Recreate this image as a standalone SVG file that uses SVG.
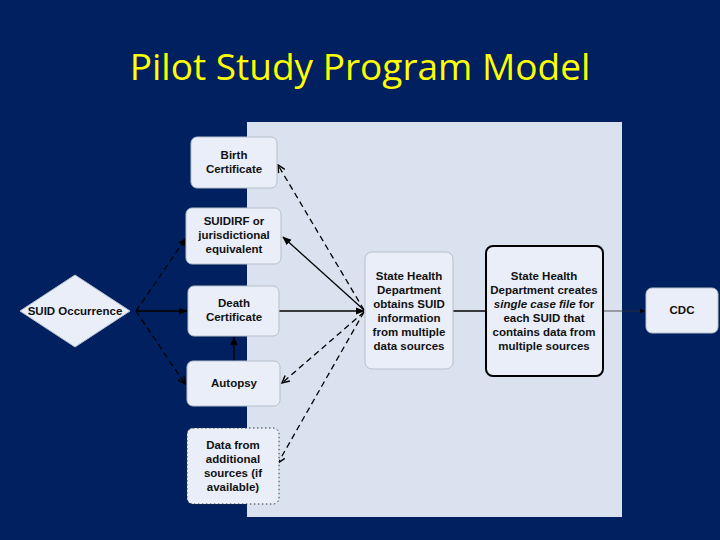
<svg xmlns="http://www.w3.org/2000/svg" width="720" height="540" viewBox="0 0 720 540">
<style>
.n{fill:#E9EEF8;stroke:#B8C0CC;stroke-width:1}
.t{font-family:"Liberation Sans",Arial,sans-serif;font-weight:bold;font-size:11.5px;fill:#111;text-anchor:middle}
.s{stroke:#000;stroke-width:1.3;fill:none}
.d{stroke:#000;stroke-width:1.3;fill:none;stroke-dasharray:6,4}
</style>
<defs>
<marker id="a" viewBox="0 0 10 10" refX="9" refY="5" markerWidth="7" markerHeight="7" orient="auto-start-reverse"><path d="M0,1 L10,5 L0,9 Z" fill="#000"/></marker>
<marker id="v" viewBox="0 0 10 10" refX="9" refY="5" markerWidth="7" markerHeight="7" orient="auto"><path d="M1,1 L9,5 L1,9" fill="none" stroke="#000" stroke-width="1.6"/></marker>
</defs>
<rect width="720" height="540" fill="#002060"/>
<text x="360" y="80" font-family="'Open Sans','Noto Sans',sans-serif" font-size="37" fill="#FFFF00" text-anchor="middle">Pilot Study Program Model</text>
<rect x="247" y="122" width="375" height="395" fill="#DAE2F0"/>
<g id="connectors">
<path class="d" d="M136,311 L186,238" marker-end="url(#a)"/>
<path class="s" d="M136,311 L187,311" marker-end="url(#a)"/>
<path class="d" d="M136,311 L185,384" marker-end="url(#v)"/>
<path class="s" d="M234,361 L234,337" marker-end="url(#a)"/>
<path class="d" d="M364,310 L278,165" marker-end="url(#v)"/>
<path class="s" d="M364,310 L283,237" marker-end="url(#a)"/>
<path class="s" d="M279,311 L364,311" marker-end="url(#a)"/>
<path class="d" d="M364,312 L282,383" marker-end="url(#v)"/>
<path class="d" d="M364,312 L278,463" marker-end="url(#v)"/>
<path class="s" d="M453,311 L486,311"/>
<path d="M603,311 L645,311" stroke="#333" stroke-width="0.8" fill="none" marker-end="url(#a)"/>
</g>
<g id="suid"><path d="M75,275 L130,311 L75,347 L20,311 Z" fill="#E9EEF8" stroke="#B8C0CC" stroke-linejoin="round"/><text class="t" x="75" y="315">SUID Occurrence</text></g>
<g id="birth"><rect class="n" x="191" y="137" width="86" height="51" rx="6"/><text class="t" x="234" y="159">Birth</text><text class="t" x="234" y="173">Certificate</text></g>
<g id="suidirf"><rect class="n" x="186" y="208" width="95" height="56" rx="6"/><text class="t" x="234" y="225">SUIDIRF or</text><text class="t" x="234" y="239">jurisdictional</text><text class="t" x="234" y="253">equivalent</text></g>
<g id="death"><rect class="n" x="188" y="286" width="91" height="50" rx="6"/><text class="t" x="234" y="307">Death</text><text class="t" x="234" y="321">Certificate</text></g>
<g id="autopsy"><rect class="n" x="187" y="361" width="93" height="45" rx="6"/><text class="t" x="234" y="387">Autopsy</text></g>
<g id="data"><rect x="187" y="428" width="92" height="76" rx="6" fill="#E9EEF8" stroke="#333" stroke-dasharray="1.5,2.5"/><text class="t" x="233" y="449">Data from</text><text class="t" x="233" y="463">additional</text><text class="t" x="233" y="477">sources (if</text><text class="t" x="233" y="491">available)</text></g>
<g id="shd"><rect class="n" x="365" y="252" width="88" height="117" rx="7"/><text class="t" x="409" y="280">State Health</text><text class="t" x="409" y="294">Department</text><text class="t" x="409" y="308">obtains SUID</text><text class="t" x="409" y="322">information</text><text class="t" x="409" y="336">from multiple</text><text class="t" x="409" y="350">data sources</text></g>
<g id="single"><rect x="486" y="246" width="117" height="130" rx="7" fill="#E9EEF8" stroke="#000" stroke-width="2"/><text class="t" x="544" y="280">State Health</text><text class="t" x="544" y="294">Department creates</text><text class="t" x="544" y="308"><tspan font-style="italic">single case file</tspan> for</text><text class="t" x="544" y="322">each SUID that</text><text class="t" x="544" y="336">contains data from</text><text class="t" x="544" y="350">multiple sources</text></g>
<g id="cdc"><rect class="n" x="646" y="288" width="72" height="45" rx="6"/><text class="t" x="682" y="314">CDC</text></g>
</svg>
